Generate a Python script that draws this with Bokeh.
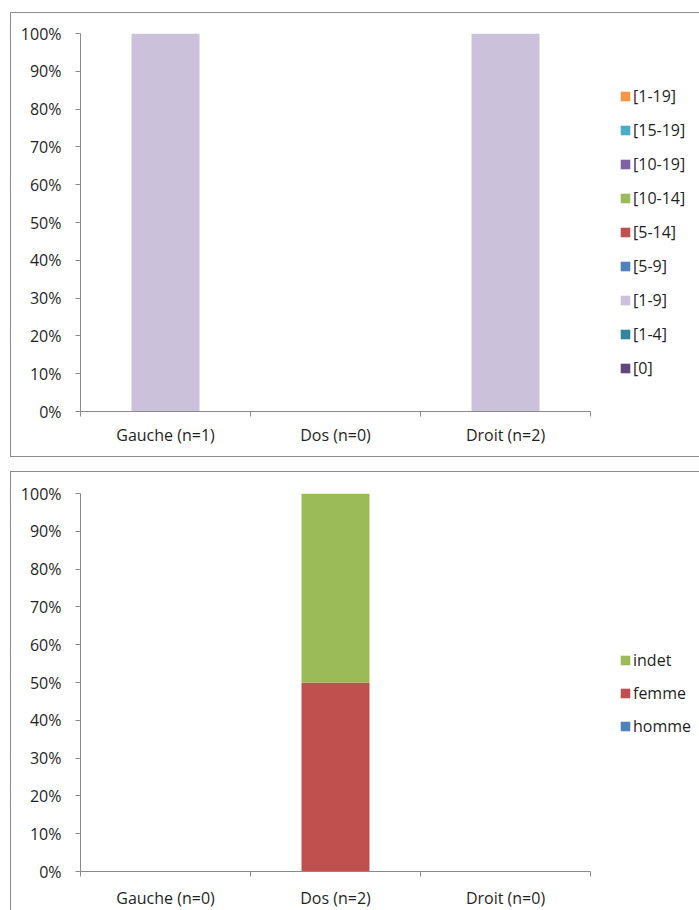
from bokeh.plotting import figure
from bokeh.layouts import column
from bokeh.models import (ColumnDataSource, Range1d, FixedTicker, NumeralTickFormatter,
                          Legend, LegendItem)
from bokeh.embed import file_html
from bokeh.resources import INLINE

# ---------------- data ----------------
cats_top = ["Gauche (n=1)", "Dos (n=0)", "Droit (n=2)"]
series_top = ["[0]", "[1-4]", "[1-9]", "[5-9]", "[5-14]", "[10-14]", "[10-19]", "[15-19]", "[1-19]"]
colors_top = ["#5F497A", "#31859C", "#CCC1DA", "#4F81BD", "#C0504D", "#9BBB59", "#8064A2", "#4BACC6", "#F79646"]
v_0 = [0.0, 0.0, 0.0]
v_1_4 = [0.0, 0.0, 0.0]
v_1_9 = [1.0, 0.0, 1.0]
v_5_9 = [0.0, 0.0, 0.0]
v_5_14 = [0.0, 0.0, 0.0]
v_10_14 = [0.0, 0.0, 0.0]
v_10_19 = [0.0, 0.0, 0.0]
v_15_19 = [0.0, 0.0, 0.0]
v_1_19 = [0.0, 0.0, 0.0]
values_top = [v_0, v_1_4, v_1_9, v_5_9, v_5_14, v_10_14, v_10_19, v_15_19, v_1_19]

cats_bot = ["Gauche (n=0)", "Dos (n=2)", "Droit (n=0)"]
series_bot = ["homme", "femme", "indet"]
colors_bot = ["#4F81BD", "#C0504D", "#9BBB59"]
homme = [0.0, 0.0, 0.0]
femme = [0.0, 0.5, 0.0]
indet = [0.0, 0.5, 0.0]
values_bot = [homme, femme, indet]

y_ticks = [0.0, 0.1, 0.2, 0.3, 0.4, 0.5, 0.6, 0.7, 0.8, 0.9, 1.0]

FONT = "Open Sans"
TXT = "#1f1f1f"
AX = "#8a8a8a"
BORDER = "1px solid #8c8c8c"

FIG_W = 689
BORDER_LEFT = 69
AXIS_W = 510          # pixel length of the category axis
PLOT_W = FIG_W - BORDER_LEFT  # frame extends to the right edge (legend lives there)


def make_chart(cats, series, colors, values, height, mb_top, mb_bottom, standoff,
               legend_xy, legend_spacing, borders):
    n = len(cats)
    xs = [i + 0.5 for i in range(n)]
    data = {"x": xs}
    for s, v in zip(series, values):
        data[s] = v
    src = ColumnDataSource(data)

    p = figure(width=FIG_W, height=height, output_backend="svg", toolbar_location=None,
               x_range=Range1d(0, n * PLOT_W / AXIS_W), y_range=Range1d(0, 1),
               min_border_left=BORDER_LEFT, min_border_right=0,
               min_border_top=mb_top, min_border_bottom=mb_bottom,
               background_fill_color="white", border_fill_color="white")
    p.outline_line_color = None
    p.grid.visible = False
    p.styles = borders

    rs = p.vbar_stack(series, x="x", width=0.4, color=colors, source=src, line_color=None)

    # x axis: labels at category centres, tick marks between categories
    xa = p.xaxis[0]
    xa.bounds = (0, n)
    xa.ticker = FixedTicker(ticks=xs, minor_ticks=list(range(n + 1)))
    xa.major_label_overrides = {x: c for x, c in zip(xs, cats)}
    xa.major_tick_out = 0
    xa.major_tick_in = 0
    xa.minor_tick_out = 5
    xa.minor_tick_in = 0
    xa.minor_tick_line_color = AX
    xa.axis_line_color = AX
    xa.major_label_standoff = standoff
    xa.major_label_text_font = FONT
    xa.major_label_text_font_size = "16px"
    xa.major_label_text_color = TXT

    ya = p.yaxis[0]
    ya.ticker = FixedTicker(ticks=y_ticks)
    ya.formatter = NumeralTickFormatter(format="0%")
    ya.major_tick_out = 5
    ya.major_tick_in = 0
    ya.minor_tick_line_color = None
    ya.major_tick_line_color = AX
    ya.axis_line_color = AX
    ya.major_label_standoff = 14
    ya.major_label_text_font = FONT
    ya.major_label_text_font_size = "16px"
    ya.major_label_text_color = TXT

    items = [LegendItem(label=s, renderers=[r]) for s, r in zip(series, rs)][::-1]
    leg = Legend(items=items, location=legend_xy, padding=0, margin=0,
                 spacing=legend_spacing, glyph_width=12, glyph_height=12,
                 label_standoff=2, label_height=20,
                 label_text_font=FONT, label_text_font_size="16px",
                 label_text_color=TXT, border_line_color=None,
                 background_fill_alpha=0)
    p.add_layout(leg, "center")
    return p


p1 = make_chart(cats_top, series_top, colors_top, values_top, 445, 20, 47, 7,
                (539, 32), 12,
                {"border-left": BORDER, "border-top": BORDER, "border-bottom": BORDER,
                 "box-sizing": "border-box"})
p1.margin = (12, 0, 0, 10)

p2 = make_chart(cats_bot, series_bot, colors_bot, values_bot, 439, 21, 38, 10,
                (539, 134), 11,
                {"border-left": BORDER, "border-top": BORDER, "box-sizing": "border-box"})
p2.margin = (14, 0, 0, 10)

layout = column(p1, p2, spacing=0)

open("out.html", "w").write(file_html(layout, INLINE))
